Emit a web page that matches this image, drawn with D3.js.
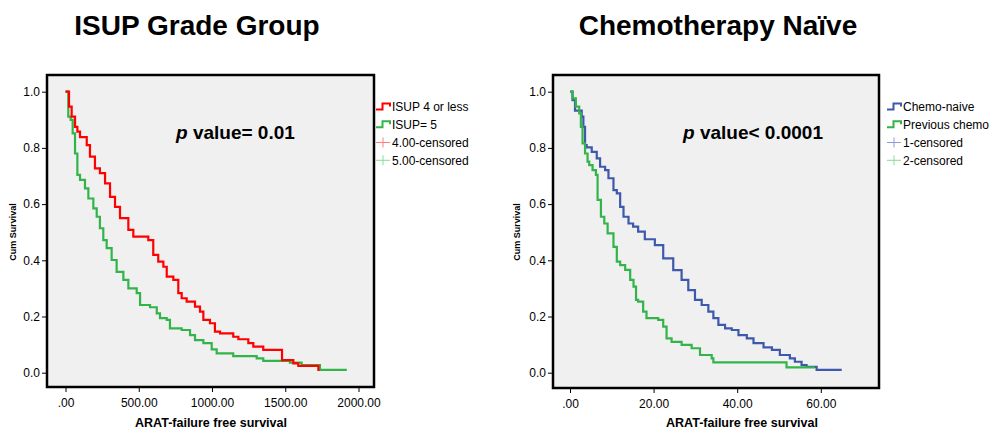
<!DOCTYPE html>
<html>
<head>
<meta charset="utf-8">
<script src="https://cdn.jsdelivr.net/npm/d3@7"></script>
<style>
  body { margin: 0; background: #fff; }
  svg { display: block; font-family: Arial, "Liberation Sans", sans-serif; }
  .tick text { font-size: 12px; fill: #000; }
  .tick line { stroke: #000; }
</style>
</head>
<body>
<svg id="chart" width="992" height="429"></svg>
<script>
// ---- data ----
var isupLowTime = [0,24,42,65,81,99,145,167,201,235,270,304,338,372,429,463,565,599,633,668,
  691,736,770,793,827,884,918,941,986,1020,1055,1145,1180,1248,1282,1350,1478,1555,1589,1726];
var isupLowSurv = [1,.947,.911,.875,.858,.838,.81,.769,.727,.71,.674,.626,.59,.55,.508,.484,.472,.419,.395,.377,
  .342,.33,.283,.265,.253,.235,.217,.188,.176,.146,.14,.128,.119,.105,.093,.081,.045,.033,.024,.006];

var isup5Time = [0,19,35,49,65,81,99,133,156,190,213,235,258,281,315,349,395,429,486,509,
  577,623,645,691,713,793,850,884,941,998,1032,1145,1305,1350,1532,1612,1737,1920];
var isup5Surv = [1,.911,.9,.852,.78,.704,.686,.656,.62,.585,.555,.514,.472,.443,.401,.359,.33,.3,.283,.241,
  .233,.211,.194,.188,.158,.152,.134,.116,.105,.083,.069,.059,.051,.042,.036,.027,.01,.01];

var chemoNaiveTime = [0,0.6,1.2,2.8,3.2,3.6,4.0,5.2,6.4,7.2,8.4,9.2,10.4,11.2,12.0,12.8,14.0,15.1,16.3,17.9,
  20.3,22.3,24.7,26.7,28.3,29.9,31.5,33.1,34.3,35.5,37.1,38.7,40.3,42.3,43.9,46.3,48.3,50.2,52.6,53.8,
  55.4,56.6,59.0,65.0];
var chemoNaiveSurv = [1,.97,.933,.911,.875,.81,.802,.786,.763,.733,.721,.692,.65,.638,.59,.555,.531,.52,.502,.475,
  .454,.407,.365,.33,.294,.259,.241,.217,.194,.17,.158,.152,.134,.122,.105,.09,.081,.063,.051,.039,
  .027,.021,.01,.01];

var prevChemoTime = [0,0.6,1.4,2.2,2.6,3.0,3.6,4.2,4.6,5.4,6.2,6.6,7.4,8.2,9.0,10.4,11.2,12.0,13.2,14.4,
  15.2,15.8,16.3,17.5,18.3,21.1,22.3,23.1,24.3,26.7,29.1,31.1,33.9,34.3,51.8,58.6];
var prevChemoSurv = [1,.976,.947,.923,.875,.816,.78,.751,.739,.721,.704,.615,.555,.531,.496,.448,.395,.383,.366,.33,
  .306,.259,.253,.217,.194,.188,.164,.122,.11,.099,.087,.063,.051,.037,.019,.019];

var yTicks = [0, 0.2, 0.4, 0.6, 0.8, 1.0];
var isupXTicks = [0, 500, 1000, 1500, 2000];
var chemoXTicks = [0, 20, 40, 60];

var isupLegend = ["ISUP 4 or less", "ISUP= 5", "4.00-censored", "5.00-censored"];
var chemoLegend = ["Chemo-naive", "Previous chemo", "1-censored", "2-censored"];

var red = "#ff0000", redLight = "#ff8080";
var green = "#33b44a", greenLight = "#8fd89a";
var blue = "#3e58ac", blueLight = "#8d9ddb";

function toPoints(t, s) {
  return t.map(function (d, i) { return {t: d, s: s[i]}; });
}

var svg = d3.select("#chart");

// one KM panel
function drawPanel(p) {
  var g = svg.append("g");

  var x = d3.scaleLinear().domain(p.xDomain).range(p.xRange);
  var y = d3.scaleLinear().domain([0, 1]).range([372.7, 91.7]);

  // title
  g.append("text")
      .attr("x", p.titleX).attr("y", 35)
      .attr("text-anchor", "middle")
      .style("font-size", "28px").style("font-weight", "bold")
      .text(p.title);

  // plot frame
  g.append("rect")
      .attr("x", p.frame[0]).attr("y", 75)
      .attr("width", p.frame[1] - p.frame[0]).attr("height", p.frameBottom - 75)
      .attr("fill", "#f0f0f0")
      .attr("stroke", "#000").attr("stroke-width", 2.5);

  // y axis
  var yAxis = d3.axisLeft(y).tickValues(yTicks).tickSize(4).tickPadding(2)
      .tickFormat(d3.format(".1f"));
  g.append("g")
      .attr("transform", "translate(" + (p.frame[0] - 1) + ",0)")
      .call(yAxis)
      .call(function (a) { a.select(".domain").remove(); });

  // x axis
  var fmt = d3.format(".2f");
  var xAxis = d3.axisBottom(x).tickValues(p.xTicks).tickSize(4).tickPadding(6)
      .tickFormat(function (d) { return d === 0 ? ".00" : fmt(d); });
  g.append("g")
      .attr("transform", "translate(0," + (p.frameBottom + 1) + ")")
      .call(xAxis)
      .call(function (a) { a.select(".domain").remove(); });

  // axis labels
  g.append("text")
      .attr("transform", "translate(" + p.yLabelX + ",232) rotate(-90)")
      .attr("text-anchor", "middle")
      .style("font-size", "9px").style("font-weight", "bold")
      .text("Cum Survival");

  g.append("text")
      .attr("x", p.xLabelX).attr("y", 427)
      .attr("text-anchor", "middle")
      .style("font-size", "12.5px").style("font-weight", "bold")
      .text("ARAT-failure free survival");

  // p value
  var pv = g.append("text")
      .attr("x", p.pX).attr("y", 139)
      .style("font-size", "19px").style("font-weight", "bold");
  pv.append("tspan").style("font-style", "italic").text("p");
  pv.append("tspan").text(p.pText);

  // survival curves
  var line = d3.line()
      .x(function (d) { return x(d.t); })
      .y(function (d) { return y(d.s); })
      .curve(d3.curveStepAfter);

  g.append("g")
      .selectAll("path.km")
      .data(p.series)
      .enter()
      .append("path")
      .attr("class", "km")
      .attr("d", function (d) { return line(d.points); })
      .attr("fill", "none")
      .attr("stroke", function (d) { return d.color; })
      .attr("stroke-width", 2.2);

  // legend
  var leg = g.append("g")
      .attr("transform", "translate(" + p.legendX + ",0)");
  var rowY = [107, 124.7, 142.5, 160.3];
  var legColors = p.legendColors;

  leg.selectAll("path.sym")
      .data(p.legend.slice(0, 2))
      .enter()
      .append("path")
      .attr("class", "sym")
      .attr("d", function (d, i) {
        var yy = rowY[i];
        return "M0," + (yy + 2.5) + "H6.5V" + (yy - 3.5) + "H14V" + (yy - 0.5);
      })
      .attr("fill", "none")
      .attr("stroke", function (d, i) { return legColors[i]; })
      .attr("stroke-width", 2);

  leg.selectAll("path.cens")
      .data(p.legend.slice(2))
      .enter()
      .append("path")
      .attr("class", "cens")
      .attr("d", function (d, i) {
        var yy = rowY[i + 2];
        return "M0," + yy + "H14M7," + (yy - 5) + "V" + (yy + 5);
      })
      .attr("stroke", function (d, i) { return legColors[i + 2]; })
      .attr("stroke-width", 1);

  leg.selectAll("text")
      .data(p.legend)
      .enter()
      .append("text")
      .attr("x", 16)
      .attr("y", function (d, i) { return rowY[i] + 4.3; })
      .style("font-size", "12px")
      .text(function (d) { return d; });
}

drawPanel({
  title: "ISUP Grade Group", titleX: 197,
  frame: [47, 374], frameBottom: 387,
  xDomain: [0, 2000], xRange: [65.5, 358.5], xTicks: isupXTicks,
  yLabelX: 16, xLabelX: 211,
  pX: 176, pText: " value= 0.01",
  legendX: 376, legend: isupLegend,
  legendColors: [red, green, redLight, greenLight],
  series: [
    {points: toPoints(isup5Time, isup5Surv), color: green},
    {points: toPoints(isupLowTime, isupLowSurv), color: red}
  ]
});

drawPanel({
  title: "Chemotherapy Naïve", titleX: 718,
  frame: [553, 879], frameBottom: 388,
  xDomain: [0, 60], xRange: [570, 820.8], xTicks: chemoXTicks,
  yLabelX: 520, xLabelX: 742,
  pX: 683, pText: " value< 0.0001",
  legendX: 887, legend: chemoLegend,
  legendColors: [blue, green, blueLight, greenLight],
  series: [
    {points: toPoints(chemoNaiveTime, chemoNaiveSurv), color: blue},
    {points: toPoints(prevChemoTime, prevChemoSurv), color: green}
  ]
});
</script>
</body>
</html>
